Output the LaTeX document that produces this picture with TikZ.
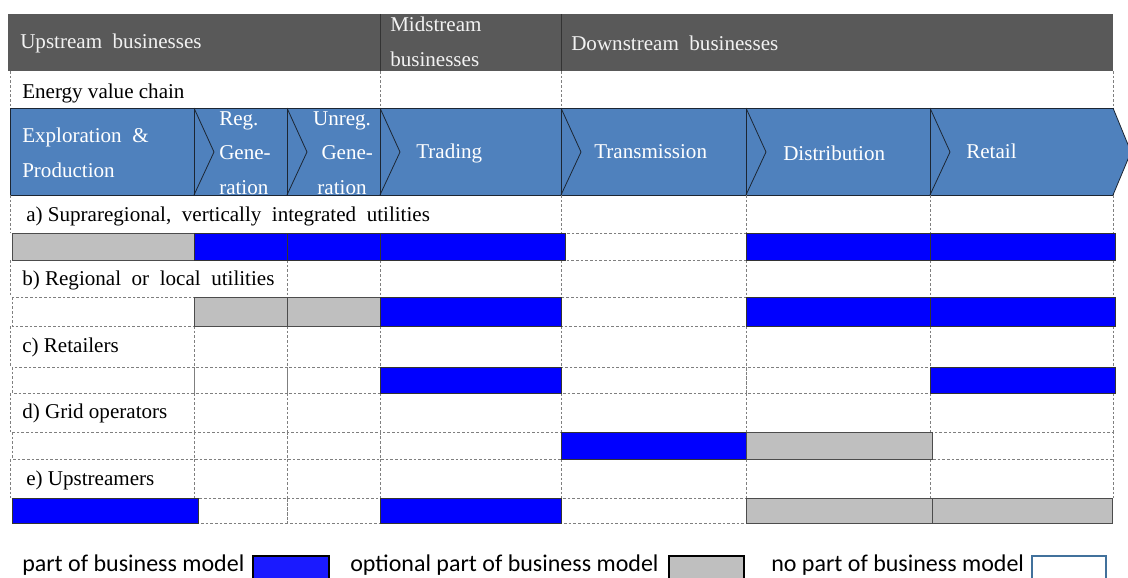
\documentclass[tikz,border=0pt]{standalone}
\usepackage{fontspec}
\setmainfont{Liberation Serif}
\newfontfamily\legfont{Carlito}
\definecolor{hdr}{HTML}{595959}
\definecolor{chev}{HTML}{4F81BD}
\definecolor{chevline}{HTML}{1C2633}
\definecolor{bblue}{HTML}{0000FF}
\definecolor{bgray}{HTML}{BFBFBF}
\definecolor{dgray}{HTML}{7F7F7F}
\definecolor{legblue}{HTML}{1A1AFF}
\definecolor{legframe}{HTML}{41719C}
\begin{document}
\begin{tikzpicture}[x=0.75pt,y=-0.75pt,
  txt/.style={font=\fontsize{15.8}{26}\selectfont, inner sep=0pt, anchor=west},
  wtxt/.style={txt, text=white},
  htxt/.style={txt, text=white!95!black},
  gridline/.style={draw=dgray, dashed, dash pattern=on 2pt off 1.5pt, line width=0.5pt},
  cellB/.style={fill=bblue, draw=black!80, line width=0.6pt},
  cellG/.style={fill=bgray, draw=black!70, line width=0.6pt},
  cellW/.style={gridline},
  chevbox/.style={fill=chev, draw=chevline, line width=0.6pt},
  notch/.style={draw=chevline, line width=0.6pt},
  legtxt/.style={font=\legfont\fontsize{18}{20}\selectfont, inner sep=0pt, anchor=west}
]
\useasboundingbox (0,0) rectangle (1128,578);

% header band
\fill[hdr] (8,14) rectangle (1113,71);
\draw[black!80, line width=0.6pt] (380,14) -- (380,71) (561,14) -- (561,71);
\node[htxt] (up) at (20,43) {Upstream\ \ businesses};
\node[htxt, align=left, anchor=north west] (mid) at (390,17) {Midstream\\businesses};
\node[htxt] (down) at (571,43) {Downstream\ \ businesses};

% energy value chain row
\foreach \x in {10,380,561,1113} \draw[gridline] (\x,71) -- (\x,108);
\node[txt] (evc) at (22,93) {Energy value chain};

% chevron row
\foreach \a/\b in {10/194,194/287,287/380,380/561,561/746,746/930,930/1113}
  \draw[chevbox] (\a,108) rectangle (\b,195);
\draw[chevbox] (1113,108) -- (1131,152) -- (1113,195);
\foreach \x in {194,287,380,561,746,930}
  \draw[notch] (\x,108) -- (\x+20,152) -- (\x,195);
\node[wtxt, align=left] (ep) at (22,153) {Exploration\ \ \&\\Production};
\node[wtxt, align=left] (reg) at (219,153) {Reg.\\Gene-\\ration};
\node[wtxt, align=center, anchor=center] (unreg) at (342,153) {Unreg.\\\ \ Gene-\\ration};
\node[wtxt] (trad) at (416,153) {Trading};
\node[wtxt] (trans) at (594,152) {Transmission};
\node[wtxt] (dist) at (783,153) {Distribution};
\node[wtxt] (ret) at (966,151) {Retail};

% label row dashed verticals
\foreach \x in {10,561,746,930,1113} \draw[gridline] (\x,195) -- (\x,233);
\foreach \x in {10,287,380,561,746,930,1113} \draw[gridline] (\x,260) -- (\x,297);
\foreach \t/\b in {326/367,393/432,459/498}
  \foreach \x in {10,194,287,380,561,746,930,1113} \draw[gridline] (\x,\t) -- (\x,\b);

% labels
\node[txt] (la) at (26,216) {a) Supraregional,\ \ vertically\ \ integrated\ \ utilities};
\node[txt] (lb) at (22,280) {b) Regional\ \ or\ \ local\ \ utilities};
\node[txt] (lc) at (22,347) {c) Retailers};
\node[txt] (ld) at (22,413) {d) Grid operators};
\node[txt] (le) at (26,480) {e) Upstreamers};

% bars
% row a
\foreach \a/\b/\c in {561/746/W,12/194/G,194/287/B,287/380/B,380/565/B,746/930/B,930/1115/B}
  \draw[cell\c] (\a,233) rectangle (\b,260);
% row b
\foreach \a/\b/\c in {12/194/W,561/746/W,194/287/G,287/380/G,380/561/B,746/930/B,930/1115/B}
  \draw[cell\c] (\a,297) rectangle (\b,326);
% row c
\foreach \a/\b/\c in {12/194/W,194/287/W,287/380/W,561/746/W,746/930/W,380/561/B,930/1115/B}
  \draw[cell\c] (\a,367) rectangle (\b,393);
% row d
\foreach \a/\b/\c in {12/194/W,194/287/W,287/380/W,380/561/W,932/1113/W,561/746/B,746/932/G}
  \draw[cell\c] (\a,432) rectangle (\b,459);
% row e
\foreach \a/\b/\c in {198/287/W,287/380/W,561/746/W,12/198/B,380/561/B,746/932/G,932/1112/G}
  \draw[cell\c] (\a,498) rectangle (\b,523);

% legend
\node[legtxt] (l1) at (22,565) {part of business model};
\draw[fill=legblue, draw=black, line width=1.5pt] (253,556) rectangle (329,580);
\node[legtxt] (l2) at (350,565) {optional part of business model};
\draw[fill=bgray, draw=black, line width=1.2pt] (669,556) rectangle (744,580);
\node[legtxt] (l3) at (771,565) {no part of business model};
\draw[fill=white, draw=legframe, line width=1.2pt] (1032,556) rectangle (1106,580);
\end{tikzpicture}
\end{document}
